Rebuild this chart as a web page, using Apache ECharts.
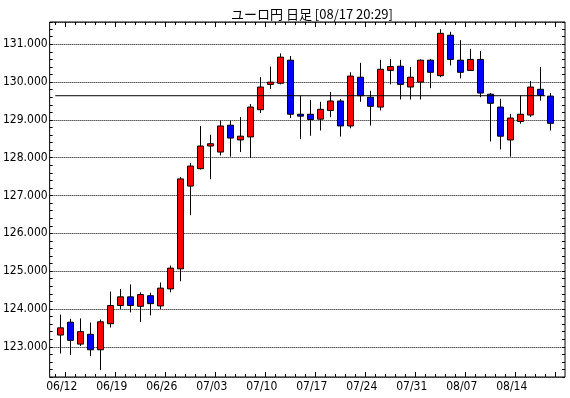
<!DOCTYPE html>
<html><head><meta charset="utf-8">
<script src="https://cdn.jsdelivr.net/npm/echarts@6/dist/echarts.min.js"></script>
<style>html,body{margin:0;padding:0;background:#fff}#c{width:570px;height:398px}</style>
</head><body><div id="c"></div>
<script>
const titleText = 'ユーロ円 日足 [08/17 20:29]';
const dates = ['06/09',
  '06/12','06/13','06/14','06/15','06/16',
  '06/19','06/20','06/21','06/22','06/23',
  '06/26','06/27','06/28','06/29','06/30',
  '07/03','07/04','07/05','07/06','07/07',
  '07/10','07/11','07/12','07/13','07/14',
  '07/17','07/18','07/19','07/20','07/21',
  '07/24','07/25','07/26','07/27','07/28',
  '07/31','08/01','08/02','08/03','08/04',
  '08/07','08/08','08/09','08/10','08/11',
  '08/14','08/15','08/16','08/17'];
const opens  = [123.31,123.65,123.07,123.33,122.92,123.61,124.09,124.32,124.07,124.35,
                124.08,124.53,125.06,127.25,127.71,128.31,128.15,128.86,128.47,128.55,
                129.27,129.94,129.97,130.58,129.15,129.15,129.02,129.25,129.50,128.84,
                130.13,129.60,129.34,130.31,130.42,129.87,130.00,130.58,130.17,131.24,
                130.58,130.31,130.60,129.68,129.34,128.47,128.96,129.13,129.81,129.63];
const highs  = [123.85,123.74,123.75,123.64,123.72,124.46,124.53,124.65,124.44,124.43,
                124.70,125.15,127.49,127.86,128.84,128.61,128.98,128.98,129.08,129.42,
                130.13,130.41,130.76,130.69,129.64,129.53,129.48,129.74,129.55,130.26,
                130.51,129.77,130.59,130.61,130.59,130.40,130.60,130.61,131.40,131.33,
                131.11,130.88,130.82,129.71,129.56,129.16,129.65,130.03,130.40,129.71];
const lows   = [122.82,122.78,123.02,122.75,122.38,123.51,124.00,123.91,123.65,123.83,
                124.00,124.44,124.73,126.48,127.69,127.43,128.06,128.03,128.15,127.99,
                129.18,129.82,129.94,129.05,128.49,128.58,128.72,129.07,128.56,128.78,
                129.48,128.85,129.25,129.94,129.54,129.54,129.54,129.84,130.13,130.44,
                130.10,130.30,129.60,128.43,128.22,128.03,128.90,129.08,129.51,128.72];
const closes = [123.50,123.17,123.40,122.92,123.66,124.09,124.32,124.09,124.38,124.14,
                124.55,125.08,127.44,127.78,128.31,128.37,128.84,128.52,128.57,129.34,
                129.87,130.00,130.66,129.15,129.10,129.01,129.28,129.50,128.84,130.16,
                129.64,129.36,130.34,130.41,129.94,130.13,130.58,130.26,131.29,130.60,
                130.26,130.60,129.71,129.44,128.57,129.05,129.15,129.87,129.65,128.91];
const refLevel = 129.64;          // horizontal reference (previous close)
const refFrom = '06/09', refTo = '08/16';
const yMin = 122.2, yMax = 131.59;

const font = "'Liberation Sans Narrow','DejaVu Sans Condensed',sans-serif";
const chart = echarts.init(document.getElementById('c'), null, {renderer: 'canvas'});
const candleData = dates.map((d, i) => [opens[i], closes[i], lows[i], highs[i]]);
const isMonday = (i) => i % 5 === 1;
const isInt = (v) => Math.abs(v - Math.round(v)) < 1e-6;
const refStart = dates.indexOf(refFrom) - 0.5, refEnd = dates.indexOf(refTo) + 0.5;

const G0 = {left: 55.3, width: 500, top: 22, bottom: 21};
const G1 = {left: 49, right: 5, top: 22, bottom: 21};
const tickStyle = {color: '#000', width: 1};
chart.setOption({
  animation: false,
  backgroundColor: '#fff',
  title: {text: titleText, left: 226, top: 3,
    textStyle: {fontSize: 13, fontWeight: 'normal', color: '#000', fontFamily: "'Noto Sans CJK JP',sans-serif"}},
  grid: [Object.assign({show: false}, G0), Object.assign({show: true, borderColor: '#000', borderWidth: 1}, G1)],
  xAxis: [
    {gridIndex: 0, type: 'category', data: dates, boundaryGap: true, position: 'bottom',
      axisLine: {show: false}, axisTick: {show: true, inside: true, length: 3, interval: 0, lineStyle: tickStyle},
      axisLabel: {interval: (i) => isMonday(i), color: '#000', fontSize: 12, fontFamily: font, margin: 4, padding: [0, 17, 0, 0]},
      splitLine: {show: false}},
    {gridIndex: 0, type: 'category', data: dates, position: 'bottom', axisLine: {show: false},
      axisTick: {show: true, inside: true, length: 5, interval: (i) => isMonday(i), lineStyle: tickStyle},
      axisLabel: {show: false}, splitLine: {show: false}},
    {gridIndex: 0, type: 'category', data: dates, position: 'top', axisLine: {show: false},
      axisTick: {show: true, inside: true, length: 3, interval: 0, lineStyle: tickStyle},
      axisLabel: {show: false}, splitLine: {show: false}},
    {gridIndex: 0, type: 'category', data: dates, position: 'top', axisLine: {show: false},
      axisTick: {show: true, inside: true, length: 5, interval: (i) => isMonday(i), lineStyle: tickStyle},
      axisLabel: {show: false}, splitLine: {show: false}},
    {gridIndex: 1, type: 'value', show: false, min: 0, max: 1},
    {gridIndex: 0, type: 'value', show: false, min: -0.5, max: dates.length - 0.5}
  ],
  yAxis: [
    {gridIndex: 0, type: 'value', min: yMin, max: yMax, show: false},
    {gridIndex: 1, type: 'value', min: yMin, max: yMax, splitNumber: 9, position: 'left',
      axisLine: {show: false}, axisTick: {show: false},
      axisLabel: {color: '#000', fontSize: 12, fontFamily: font, margin: 2,
        formatter: (v) => isInt(v) ? v.toFixed(3) : '', showMinLabel: false, showMaxLabel: false},
      splitLine: {show: true, lineStyle: {color: '#000', width: 1, type: [1, 1]}}},
    {gridIndex: 1, type: 'value', min: yMin, max: yMax, interval: 0.2, position: 'left',
      axisLine: {show: false}, axisTick: {show: true, inside: true, length: 3, lineStyle: tickStyle},
      axisLabel: {show: false}, splitLine: {show: false}},
    {gridIndex: 1, type: 'value', min: yMin, max: yMax, interval: 0.2, position: 'right',
      axisLine: {show: false}, axisTick: {show: true, inside: true, length: 3, lineStyle: tickStyle},
      axisLabel: {show: false}, splitLine: {show: false}}
  ],
  series: [
    {type: 'candlestick', xAxisIndex: 0, yAxisIndex: 0, data: candleData, barWidth: 6, silent: true,
      itemStyle: {color: '#ff0000', color0: '#0000ff', borderColor: '#000', borderColor0: '#000',
        borderColorDoji: '#000', borderWidth: 1}},
    {type: 'line', xAxisIndex: 5, yAxisIndex: 0, data: [[refStart, refLevel], [refEnd, refLevel]],
      symbol: 'none', silent: true, z: 5, lineStyle: {color: '#000', width: 1}}
  ]
});
</script></body></html>
